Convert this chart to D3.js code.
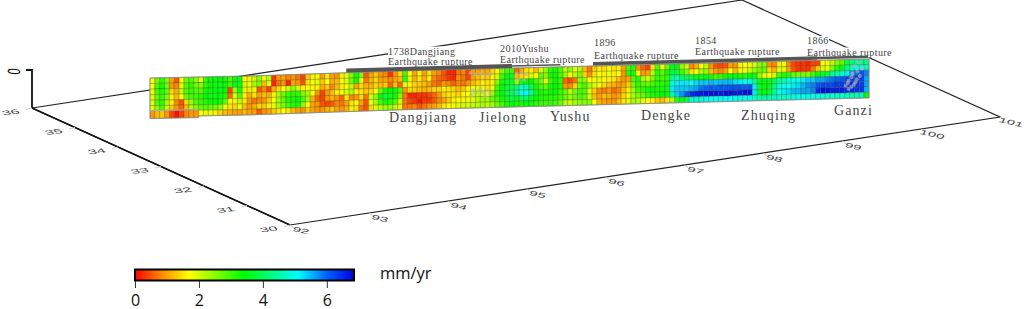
<!DOCTYPE html>
<html>
<head>
<meta charset="utf-8">
<script src="https://cdn.jsdelivr.net/npm/d3@7"></script>
<style>
  html, body { margin: 0; padding: 0; background: #fff; }
  svg { display: block; }
</style>
</head>
<body>
<div id="chart"></div>
<script>
// slip rate along the fault, one list per row, mm/yr, 10 columns a line
var rate0 = [
  1.7,2.7,3.1,2.6,1.0,0.5,1.7,2.7,2.9,2.5,
  1.9,3.1,3.4,3.5,3.4,3.3,2.9,3.5,3.5,1.7,
  1.6,2.1,2.5,1.8,2.2,0.3,0.9,1.0,0.8,0.9,
  0.7,0.4,1.3,1.6,1.7,1.0,1.6,1.0,0.9,1.6,
  1.9,2.6,3.3,2.6,0.5,1.0,1.3,0.9,0.8,0.3,
  0.9,1.4,3.0,1.7,1.0,1.6,1.0,1.5,1.0,0.8,
  0.5,0.2,0.2,0.7,0.8,0.4,0.9,1.0,1.1,1.1,
  1.4,1.8,2.6,3.0,3.1,0.6,1.0,1.5,1.6,1.2,
  2.0,2.4,3.2,3.3,2.9,2.2,2.5,1.9,2.3,1.2,
  0.7,1.3,1.6,1.5,1.7,1.5,1.6,1.0,3.0,3.2,
  0.9,0.6,0.4,1.5,2.9,1.8,2.8,3.6,3.5,2.4,
  2.1,0.8,1.1,1.7,2.2,0.9,0.5,0.4,0.5,1.0,
  0.9,1.6,1.7,1.8,2.0,2.5,2.6,0.9,0.8,1.6,
  1.8,0.8,0.4,0.3,0.3,0.2,0.4,0.4,1.7,1.8,
  2.2,2.5,2.8,3.8,4.2,4.4,4.2,4.3
];
var rate1 = [
  1.7,3.0,3.3,2.7,0.9,0.8,1.9,2.9,3.1,2.7,
  2.5,3.2,3.4,3.5,3.5,3.4,3.0,3.5,3.6,2.0,
  1.8,2.3,2.6,1.2,1.9,0.2,0.7,0.9,0.2,1.0,
  0.9,0.5,1.5,1.8,1.9,1.3,1.7,1.1,1.2,1.8,
  1.9,2.7,3.3,1.9,0.7,1.1,1.4,1.0,1.0,0.8,
  1.0,1.2,3.1,1.9,1.1,1.5,1.1,1.6,0.8,0.6,
  0.5,0.3,0.2,0.9,0.7,0.4,1.0,1.2,1.4,1.3,
  1.6,2.0,3.0,3.5,3.6,1.2,1.4,1.6,2.0,1.7,
  2.8,2.5,3.3,3.4,3.0,2.4,1.8,2.2,2.6,1.4,
  0.9,1.5,1.7,1.6,1.8,1.6,1.7,0.9,3.2,3.3,
  1.7,0.9,1.0,2.2,3.2,2.8,3.3,3.8,3.8,3.0,
  2.6,1.5,1.8,2.3,2.4,1.2,0.9,0.8,1.0,1.7,
  1.2,1.6,1.8,2.1,2.4,2.7,2.8,1.4,1.1,1.9,
  1.9,1.0,0.5,0.3,0.3,0.3,0.7,1.3,2.0,1.8,
  2.6,3.2,3.6,4.2,4.7,5.0,5.0,4.6
];
var rate2 = [
  1.8,3.0,3.2,2.8,1.4,1.1,2.1,2.9,3.1,2.9,
  2.9,3.3,3.4,3.5,3.5,3.4,0.4,2.4,3.3,1.9,
  1.5,1.9,0.5,0.8,0.4,1.1,1.4,1.7,2.0,2.4,
  2.0,1.6,1.7,1.6,1.6,1.1,1.3,0.8,1.2,1.6,
  1.8,2.2,1.0,1.4,1.1,1.1,1.4,1.2,1.3,0.6,
  1.2,0.6,1.9,1.6,1.4,1.3,1.2,1.0,0.7,0.6,
  0.9,0.8,0.6,0.8,0.7,0.9,1.2,1.4,1.6,1.5,
  1.6,2.6,3.3,3.6,3.7,2.4,3.3,3.5,3.4,3.0,
  2.7,1.9,3.1,3.4,3.1,0.6,0.4,0.7,2.6,2.5,
  1.7,1.8,1.9,1.7,1.6,1.5,1.2,0.9,1.0,2.9,
  3.2,2.3,2.0,2.6,3.1,3.0,3.1,4.4,4.6,4.2,
  4.0,3.9,3.6,3.6,3.5,3.3,3.0,3.1,3.3,3.6,
  3.5,3.3,3.2,3.4,3.6,2.4,1.9,1.7,2.0,3.0,
  3.2,3.2,2.8,2.6,2.6,2.5,3.0,3.3,3.7,3.8,
  4.4,4.6,4.7,5.2,5.6,6.0,6.1,5.8
];
var rate3 = [
  1.9,2.8,3.1,2.6,1.6,1.2,1.7,2.7,3.0,3.0,
  3.2,3.4,3.5,3.5,3.5,3.2,0.6,2.0,2.9,1.6,
  1.1,1.5,1.0,1.2,1.1,1.6,2.3,2.7,3.0,3.2,
  3.1,2.6,2.3,1.7,0.9,0.4,0.9,1.2,1.6,1.8,
  2.0,2.3,1.6,1.5,1.3,1.4,1.7,2.8,3.3,3.4,
  3.5,2.9,0.9,1.4,1.3,1.2,1.1,1.2,1.4,1.4,
  1.6,1.5,1.4,1.2,1.3,1.6,1.7,1.9,1.8,1.5,
  1.8,3.0,3.5,3.8,3.9,4.2,4.7,4.6,3.9,3.3,
  3.0,2.8,3.3,3.4,3.2,0.9,0.8,1.4,2.7,3.0,
  2.3,1.9,1.8,1.4,1.2,1.1,0.9,1.0,1.3,2.7,
  3.1,2.9,2.8,3.0,3.2,3.2,3.3,4.9,5.2,5.2,
  5.2,5.1,5.3,5.4,5.4,5.5,5.4,5.5,5.5,5.5,
  5.3,5.2,5.1,5.0,4.4,3.5,3.4,3.6,3.9,4.4,
  4.6,4.9,5.0,5.0,5.2,5.4,5.4,5.6,5.6,5.8,
  5.9,6.0,6.1,6.2,6.3,6.4,6.3,5.6
];
var rate4 = [
  1.9,2.9,3.1,2.3,1.6,0.8,0.5,1.4,2.4,2.9,
  3.1,3.2,3.4,3.4,3.3,2.8,1.7,1.6,2.2,1.5,
  0.9,0.7,0.8,0.9,1.3,1.7,2.4,2.8,3.2,3.3,
  3.4,3.0,2.4,1.1,0.6,0.4,0.9,1.1,0.9,0.6,
  1.5,0.8,0.9,1.4,0.7,2.0,2.5,3.4,3.8,3.6,
  3.3,2.6,0.7,0.2,0.2,0.3,0.3,0.4,0.6,0.9,
  1.3,1.5,1.5,1.4,1.6,1.7,2.0,2.1,2.0,1.8,
  2.4,3.2,3.5,3.8,4.0,4.4,5.0,5.1,4.4,3.6,
  3.3,3.2,3.4,3.4,3.1,2.8,2.2,2.6,3.0,2.9,
  1.9,1.3,0.8,0.7,0.9,0.6,0.8,1.2,1.6,2.4,
  3.0,3.1,3.3,3.4,3.3,3.3,3.6,5.2,5.4,5.4,
  5.4,5.5,5.6,5.9,6.0,6.1,6.0,6.1,6.1,6.1,
  6.1,6.1,6.0,6.1,5.2,3.7,3.5,3.6,4.2,4.9,
  5.0,5.1,5.2,5.3,5.5,5.7,5.8,6.1,6.2,6.2,
  6.2,6.3,6.3,6.4,6.5,6.4,6.3,5.6
];
var rate5 = [
  1.9,2.5,2.9,2.0,1.3,0.9,0.6,1.2,2.2,2.5,
  2.8,2.9,2.8,2.7,2.5,1.8,1.5,1.4,1.8,1.2,
  0.9,1.1,1.4,1.3,1.6,1.9,2.3,2.6,3.0,3.2,
  3.3,2.5,1.7,1.0,0.9,0.5,0.4,0.5,0.8,0.7,
  1.0,1.5,1.7,1.0,0.5,1.8,2.3,3.0,3.3,3.2,
  2.9,2.0,0.7,0.4,0.3,0.1,0.3,0.3,0.5,0.8,
  1.0,1.3,1.6,1.7,1.6,1.8,1.9,2.2,2.4,2.3,
  2.8,3.0,3.3,3.6,3.9,3.6,4.0,4.1,3.7,3.4,
  3.3,3.2,3.2,3.2,3.0,2.8,2.4,2.7,2.9,2.8,
  2.0,1.2,1.0,1.2,1.1,0.9,1.0,1.4,1.8,2.3,
  2.6,2.8,3.1,3.3,3.3,3.4,3.5,4.5,5.4,5.7,
  6.1,6.5,6.6,6.6,6.7,6.7,6.7,6.6,6.7,6.7,
  6.6,6.6,6.7,6.7,5.2,3.6,3.5,3.7,4.4,5.0,
  5.2,5.3,5.5,5.5,5.6,5.6,5.8,6.5,6.7,6.7,
  6.6,6.6,6.6,6.5,6.5,6.4,6.4,5.5
];
var rate6 = [
  0.9,1.2,1.3,0.9,0.4,0.1,0.4,0.8,0.9,0.9,
  1.7,1.8,1.8,1.6,1.4,1.2,1.1,1.0,1.0,1.2,
  1.0,1.0,0.5,0.9,1.0,1.3,1.5,1.7,1.5,1.2,
  1.0,0.9,1.3,1.0,0.9,0.9,1.1,1.3,1.0,0.9,
  1.1,1.6,1.5,0.7,0.5,1.4,2.0,2.2,2.4,2.4,
  2.2,1.6,0.7,0.7,0.8,0.5,0.7,0.9,1.0,1.2,
  1.5,1.7,1.8,1.9,2.0,2.0,2.2,2.2,2.3,2.2,
  2.3,2.7,3.0,3.3,3.4,3.3,3.3,3.4,3.3,3.2,
  3.1,3.0,3.1,3.0,2.7,2.2,2.0,2.3,2.5,2.5,
  2.5,1.7,1.1,1.0,0.9,0.9,1.2,1.5,1.9,2.3,
  2.2,1.9,1.7,1.6,1.3,1.2,1.5,2.2,3.2,3.5,
  3.8,4.8,4.8,4.9,5.0,5.1,5.1,5.0,5.1,5.1,
  5.0,5.0,5.0,5.0,4.7,4.6,4.5,4.6,4.7,4.8,
  4.7,4.8,4.9,5.0,5.0,4.9,5.0,4.9,4.9,4.8,
  4.8,4.7,4.8,4.7,4.6,4.6,4.6,3.4
];
var rateRows = [rate0, rate1, rate2, rate3, rate4, rate5, rate6];

// axis ticks
var lonTicks = [92, 93, 94, 95, 96, 97, 98, 99, 100, 101];
var latTicks = [30, 31, 32, 33, 34, 35, 36];
var legendTicks = [0, 2, 4, 6];

// colour ramp stops
var rampValues = [0, 0.85, 1.7, 3.4, 5.1, 6.0, 6.85];
var rampColors = ["#ff0000", "#ff8c00", "#ffff00", "#00ff00", "#00ffff", "#0060ff", "#0000e0"];

// rupture bars, in grid columns
var ruptureFrom = [40.4, 74.5, 91.2, 137.3];
var ruptureTo = [74.5, 84.5, 137.3, 147.8];
var ruptureWidth = [4, 1.5, 3.5, 2.5];

// earthquake labels
var quakeYears = ["1738Dangjiang", "2010Yushu", "1896", "1854", "1866"];
var quakeX = [388, 500, 594, 695, 807];
var quakeBase1 = [54.5, 52, 46, 44, 44];
var quakeBase2 = [65, 62.7, 58.5, 55, 55.5];

// place names under the strip
var places = ["Dangjiang", "Jielong", "Yushu", "Dengke", "Zhuqing", "Ganzi"];
var placeX = [389, 479, 550, 641, 741, 834];
var placeBase = [122, 122, 121, 120, 120, 115];

// grey scatter over the grid, in column and row units
var scatterCol = [66, 67, 68, 69, 70, 66.5, 68, 69.5, 67, 68.5, 70, 66, 69, 75.5, 76.5, 77.5, 75.8, 77, 146, 145, 146.6, 145.6, 144.6, 146.1, 144.4, 145.5, 143.8, 145.2, 143.6, 144.9, 143.2, 144.4, 143.8];
var scatterRow = [0.7, 1, 0.8, 1.1, 0.9, 3.8, 3.6, 3.9, 4.4, 4.2, 4.5, 4.8, 4.9, 1, 0.9, 1.2, 2.1, 2.2, 0.6, 1.2, 1.7, 2.2, 2.6, 3, 3.2, 3.6, 3.8, 4.1, 4.2, 4.5, 4.7, 4.9, 5.3];

var width = 1024;
var height = 309;

var svg = d3.select("#chart").append("svg")
  .attr("width", width)
  .attr("height", height)
  .attr("viewBox", [0, 0, width, height]);

// the map plane is a sheared box, lon runs along one edge and lat along the other
var lonX = d3.scaleLinear().domain([92, 101]).range([290, 1000]);
var lonY = d3.scaleLinear().domain([92, 101]).range([225, 117]);
var latX = d3.scaleLinear().domain([30, 36]).range([0, -258]);
var latY = d3.scaleLinear().domain([30, 36]).range([0, -117]);

function px(lon, lat) { return lonX(lon) + latX(lat); }
function py(lon, lat) { return lonY(lon) + latY(lat); }

var line = d3.line();

// box outline
var boxCorners = [[92, 36], [92, 30], [101, 30], [101, 36], [92, 36]];
svg.append("path")
  .attr("d", line(boxCorners.map(d => [px(d[0], d[1]), py(d[0], d[1])])))
  .attr("fill", "none")
  .attr("stroke", "#222")
  .attr("stroke-width", 1.2);

// lat axis is heavier
svg.append("path")
  .attr("d", line([[px(92, 36), py(92, 36)], [px(92, 30), py(92, 30)]]))
  .attr("stroke", "#111")
  .attr("stroke-width", 1.6);

// z axis
svg.append("path")
  .attr("d", "M" + px(92, 36) + "," + py(92, 36) + "V70H" + (px(92, 36) - 6))
  .attr("fill", "none")
  .attr("stroke", "#111")
  .attr("stroke-width", 1.8);

svg.append("text")
  .attr("transform", "translate(20,72) rotate(-85) scale(0.65,1.05)")
  .attr("font-family", "'DejaVu Sans', sans-serif")
  .attr("font-size", 16)
  .attr("text-anchor", "middle")
  .attr("fill", "#111")
  .text("0");

// lat ticks and labels
svg.selectAll(".lat-tick").data(latTicks).enter().append("path")
  .attr("class", "lat-tick")
  .attr("d", d => "M" + px(92, d) + "," + py(92, d) + "l-6,1.5")
  .attr("stroke", "#ccc");

svg.selectAll(".lat-label").data(latTicks).enter().append("text")
  .attr("class", "lat-label")
  .attr("transform", d => "matrix(1.55,-0.2,0.4,0.62," + (px(92, d) - 20) + "," + (py(92, d) + 6.5) + ")")
  .attr("font-family", "'Liberation Sans', sans-serif")
  .attr("font-size", 10)
  .attr("text-anchor", "middle")
  .attr("fill", "#444")
  .text(d => d);

// lon ticks and labels
svg.selectAll(".lon-tick").data(lonTicks).enter().append("path")
  .attr("class", "lon-tick")
  .attr("d", d => "M" + px(d, 30) + "," + py(d, 30) + "l4,3")
  .attr("stroke", "#ccc");

svg.selectAll(".lon-label").data(lonTicks).enter().append("text")
  .attr("class", "lon-label")
  .attr("transform", d => "matrix(1.45,0.32,-0.3,0.62," + (px(d, 30) + 10) + "," + (py(d, 30) + 7.5) + ")")
  .attr("font-family", "'Liberation Sans', sans-serif")
  .attr("font-size", 10)
  .attr("text-anchor", "middle")
  .attr("fill", "#444")
  .text(d => d);

// strip geometry
var nCols = rate0.length;
var nRows = rateRows.length;
var colX = d3.scaleLinear().domain([0, nCols]).range([150, 869]);
var topY = d3.scaleLinear().domain([0, 20.5, 51, nCols]).range([78, 76, 71, 59]);
var rowY = d3.scaleLinear().domain([0, nRows]).range([0, 38.9]);

var color = d3.scaleLinear().domain(rampValues).range(rampColors);

function cellY(c, r) { return topY(c) + rowY(r); }

var cells = [];
rateRows.forEach(function(row, r) {
  row.forEach(function(v, c) {
    // the first ten cells of the last row hang a little lower and are taller
    var low = r == nRows - 1 && c < 10;
    cells.push({c: c, r: r, v: v, dyTop: low ? -0.8 : 0, dyBottom: low ? 1.6 : 0});
  });
});

// white boxes behind the rupture labels, they cut the box lines
var quakeG = svg.append("g");
quakeG.selectAll(".year").data(quakeYears).enter().append("text")
  .attr("class", "year")
  .attr("x", (d, i) => quakeX[i])
  .attr("y", (d, i) => quakeBase1[i])
  .text(d => d);
quakeG.selectAll(".rup").data(quakeYears).enter().append("text")
  .attr("class", "rup")
  .attr("x", (d, i) => quakeX[i])
  .attr("y", (d, i) => quakeBase2[i])
  .text("Earthquake rupture");
quakeG.selectAll("text")
  .attr("font-family", "'Liberation Serif', serif")
  .attr("font-size", 10)
  .attr("letter-spacing", 0.45)
  .attr("fill", "#444");

quakeG.selectAll("text").each(function() {
  var b = this.getBBox();
  quakeG.insert("rect", "text")
    .attr("x", b.x)
    .attr("y", b.y + 1)
    .attr("width", b.width)
    .attr("height", b.height - 1)
    .attr("fill", "#fff");
});

// heat cells
svg.append("g").selectAll("path").data(cells).enter().append("path")
  .attr("d", d => line([
    [colX(d.c), cellY(d.c, d.r) + d.dyTop],
    [colX(d.c + 1), cellY(d.c + 1, d.r) + d.dyTop],
    [colX(d.c + 1), cellY(d.c + 1, d.r + 1) + d.dyBottom],
    [colX(d.c), cellY(d.c, d.r + 1) + d.dyBottom]
  ]) + "Z")
  .attr("fill", d => color(d.v))
  .attr("stroke", "#3a3a10")
  .attr("stroke-opacity", 0.5)
  .attr("stroke-width", 0.55);

// strip outline
var outlineTop = d3.range(0, nCols + 1).map(c => [colX(c), cellY(c, 0)]);
var outlineBottom = d3.range(nCols, 9, -1).map(c => [colX(c), cellY(c, nRows)]);
svg.append("path")
  .attr("d", line(outlineTop.concat(outlineBottom, [
    [colX(10), cellY(10, nRows) + 1.6],
    [colX(0), cellY(0, nRows) + 1.6]
  ])) + "Z")
  .attr("fill", "none")
  .attr("stroke", "#8c8c8c")
  .attr("stroke-width", 0.9);

// grey line over the lower cells
svg.append("path")
  .attr("d", line([[colX(0), cellY(0, nRows - 1) - 0.8], [colX(10), cellY(10, nRows - 1) - 0.8]]))
  .attr("stroke", "#aaa")
  .attr("stroke-width", 1.2);

// grey scatter
svg.append("g").selectAll("circle").data(scatterCol).enter().append("circle")
  .attr("cx", d => colX(d))
  .attr("cy", (d, i) => cellY(d, scatterRow[i]))
  .attr("r", 2)
  .attr("fill", "#b8b8b8")
  .attr("opacity", 0.6);

// rupture bars
svg.append("g").selectAll("path").data(ruptureFrom).enter().append("path")
  .attr("d", (d, i) => line([
    [colX(d), topY(d) - 2.2],
    [colX(ruptureTo[i]), topY(ruptureTo[i]) - 2.2]
  ]))
  .attr("stroke", "#555")
  .attr("stroke-width", (d, i) => ruptureWidth[i]);

// place names
svg.append("g").selectAll("text").data(places).enter().append("text")
  .attr("x", (d, i) => placeX[i])
  .attr("y", (d, i) => placeBase[i])
  .attr("font-family", "'Liberation Serif', serif")
  .attr("font-size", 14)
  .attr("letter-spacing", 1.1)
  .attr("fill", "#444")
  .text(d => d);

// legend
var legendScale = d3.scaleLinear().domain([0, 6.85]).range([135, 354]);

var grad = svg.append("defs").append("linearGradient")
  .attr("id", "ramp");
grad.selectAll("stop").data(rampValues).enter().append("stop")
  .attr("offset", d => d / 6.85)
  .attr("stop-color", (d, i) => rampColors[i]);

svg.append("rect")
  .attr("x", legendScale(0))
  .attr("y", 269.5)
  .attr("width", legendScale(6.85) - legendScale(0))
  .attr("height", 11)
  .attr("fill", "url(#ramp)")
  .attr("stroke", "#000")
  .attr("stroke-width", 2);

var legendAxis = svg.append("g")
  .attr("transform", "translate(0,281)")
  .call(d3.axisBottom(legendScale).tickValues(legendTicks).tickFormat(d3.format("d")).tickSize(7).tickPadding(7));
legendAxis.select(".domain").remove();
legendAxis.selectAll("line").attr("stroke", "#333");
legendAxis.selectAll("text")
  .attr("font-family", "'Open Sans', sans-serif")
  .attr("font-size", 16)
  .attr("fill", "#111");

svg.append("text")
  .attr("x", 380)
  .attr("y", 279)
  .attr("font-family", "'Open Sans', sans-serif")
  .attr("font-size", 16.5)
  .attr("fill", "#111")
  .text("mm/yr");
</script>
</body>
</html>
